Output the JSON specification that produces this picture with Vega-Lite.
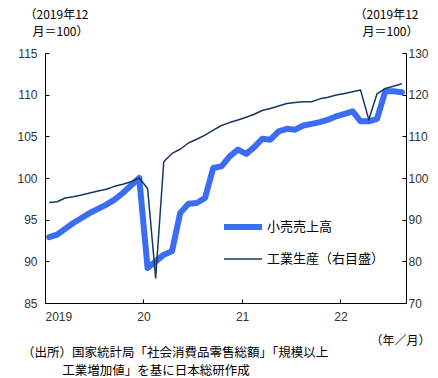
{
  "$schema": "https://vega.github.io/schema/vega-lite/v6.json",
  "width": 361,
  "height": 250,
  "autosize": "none",
  "padding": {"left": 45, "top": 53, "right": 32, "bottom": 75},
  "config": {
    "view": {"stroke": null},
    "font": "Noto Sans CJK JP",
    "axis": {
      "grid": false,
      "domainColor": "#000",
      "domainWidth": 1,
      "tickColor": "#000",
      "tickWidth": 1,
      "tickSize": -4,
      "labelFont": "Liberation Sans",
      "labelFontSize": 12,
      "labelColor": "#333",
      "titleFont": "Noto Sans CJK JP",
      "titleFontWeight": "normal",
      "titleFontSize": 12,
      "titleColor": "#000"
    },
    "legend": {
      "orient": "none",
      "legendX": 176,
      "legendY": 152,
      "padding": 0,
      "symbolType": "stroke",
      "symbolSize": 1444,
      "rowPadding": -7,
      "labelFont": "Noto Sans CJK JP",
      "labelFontSize": 13,
      "labelColor": "#000",
      "labelOffset": 2
    }
  },
  "title": {
    "text": ["（出所）国家統計局「社会消費品零售総額」「規模以上", "\u200b\u3000\u3000\u3000 工業増加値」を基に日本総研作成"],
    "orient": "bottom",
    "anchor": "start",
    "frame": "group",
    "dx": -23,
    "offset": 1,
    "font": "Noto Sans CJK JP",
    "fontSize": 12.5,
    "fontWeight": "normal",
    "lineHeight": 18,
    "color": "#000"
  },
  "data": {
    "values": [
      {"month": "2019-01", "series": "小売売上高", "value": 92.9},
      {"month": "2019-02", "series": "小売売上高", "value": 93.2},
      {"month": "2019-03", "series": "小売売上高", "value": 93.9},
      {"month": "2019-04", "series": "小売売上高", "value": 94.6},
      {"month": "2019-05", "series": "小売売上高", "value": 95.2},
      {"month": "2019-06", "series": "小売売上高", "value": 95.8},
      {"month": "2019-07", "series": "小売売上高", "value": 96.3},
      {"month": "2019-08", "series": "小売売上高", "value": 96.8},
      {"month": "2019-09", "series": "小売売上高", "value": 97.4},
      {"month": "2019-10", "series": "小売売上高", "value": 98.2},
      {"month": "2019-11", "series": "小売売上高", "value": 99.1},
      {"month": "2019-12", "series": "小売売上高", "value": 100.0},
      {"month": "2020-01", "series": "小売売上高", "value": 89.2},
      {"month": "2020-02", "series": "小売売上高", "value": 90.0},
      {"month": "2020-03", "series": "小売売上高", "value": 90.8},
      {"month": "2020-04", "series": "小売売上高", "value": 91.2},
      {"month": "2020-05", "series": "小売売上高", "value": 95.8},
      {"month": "2020-06", "series": "小売売上高", "value": 96.9},
      {"month": "2020-07", "series": "小売売上高", "value": 97.0},
      {"month": "2020-08", "series": "小売売上高", "value": 97.6},
      {"month": "2020-09", "series": "小売売上高", "value": 101.2},
      {"month": "2020-10", "series": "小売売上高", "value": 101.4},
      {"month": "2020-11", "series": "小売売上高", "value": 102.6},
      {"month": "2020-12", "series": "小売売上高", "value": 103.4},
      {"month": "2021-01", "series": "小売売上高", "value": 102.9},
      {"month": "2021-02", "series": "小売売上高", "value": 103.7},
      {"month": "2021-03", "series": "小売売上高", "value": 104.7},
      {"month": "2021-04", "series": "小売売上高", "value": 104.6},
      {"month": "2021-05", "series": "小売売上高", "value": 105.6},
      {"month": "2021-06", "series": "小売売上高", "value": 105.9},
      {"month": "2021-07", "series": "小売売上高", "value": 105.8},
      {"month": "2021-08", "series": "小売売上高", "value": 106.3},
      {"month": "2021-09", "series": "小売売上高", "value": 106.5},
      {"month": "2021-10", "series": "小売売上高", "value": 106.7},
      {"month": "2021-11", "series": "小売売上高", "value": 107.0},
      {"month": "2021-12", "series": "小売売上高", "value": 107.4},
      {"month": "2022-01", "series": "小売売上高", "value": 107.7},
      {"month": "2022-02", "series": "小売売上高", "value": 108.0},
      {"month": "2022-03", "series": "小売売上高", "value": 106.8},
      {"month": "2022-04", "series": "小売売上高", "value": 106.8},
      {"month": "2022-05", "series": "小売売上高", "value": 107.1},
      {"month": "2022-06", "series": "小売売上高", "value": 110.4},
      {"month": "2022-07", "series": "小売売上高", "value": 110.4},
      {"month": "2022-08", "series": "小売売上高", "value": 110.3},
      {"month": "2019-01", "series": "工業生産（右目盛）", "value": 94.1},
      {"month": "2019-02", "series": "工業生産（右目盛）", "value": 94.3},
      {"month": "2019-03", "series": "工業生産（右目盛）", "value": 95.2},
      {"month": "2019-04", "series": "工業生産（右目盛）", "value": 95.5},
      {"month": "2019-05", "series": "工業生産（右目盛）", "value": 95.9},
      {"month": "2019-06", "series": "工業生産（右目盛）", "value": 96.4},
      {"month": "2019-07", "series": "工業生産（右目盛）", "value": 96.9},
      {"month": "2019-08", "series": "工業生産（右目盛）", "value": 97.3},
      {"month": "2019-09", "series": "工業生産（右目盛）", "value": 98.0},
      {"month": "2019-10", "series": "工業生産（右目盛）", "value": 98.5},
      {"month": "2019-11", "series": "工業生産（右目盛）", "value": 99.1},
      {"month": "2019-12", "series": "工業生産（右目盛）", "value": 100.0},
      {"month": "2020-01", "series": "工業生産（右目盛）", "value": 97.5},
      {"month": "2020-02", "series": "工業生産（右目盛）", "value": 76.0},
      {"month": "2020-03", "series": "工業生産（右目盛）", "value": 103.9},
      {"month": "2020-04", "series": "工業生産（右目盛）", "value": 105.9},
      {"month": "2020-05", "series": "工業生産（右目盛）", "value": 106.9},
      {"month": "2020-06", "series": "工業生産（右目盛）", "value": 108.4},
      {"month": "2020-07", "series": "工業生産（右目盛）", "value": 109.3},
      {"month": "2020-08", "series": "工業生産（右目盛）", "value": 110.3},
      {"month": "2020-09", "series": "工業生産（右目盛）", "value": 111.5},
      {"month": "2020-10", "series": "工業生産（右目盛）", "value": 112.6},
      {"month": "2020-11", "series": "工業生産（右目盛）", "value": 113.3},
      {"month": "2020-12", "series": "工業生産（右目盛）", "value": 113.9},
      {"month": "2021-01", "series": "工業生産（右目盛）", "value": 114.6},
      {"month": "2021-02", "series": "工業生産（右目盛）", "value": 115.3},
      {"month": "2021-03", "series": "工業生産（右目盛）", "value": 116.2},
      {"month": "2021-04", "series": "工業生産（右目盛）", "value": 116.7},
      {"month": "2021-05", "series": "工業生産（右目盛）", "value": 117.3},
      {"month": "2021-06", "series": "工業生産（右目盛）", "value": 117.9},
      {"month": "2021-07", "series": "工業生産（右目盛）", "value": 118.1},
      {"month": "2021-08", "series": "工業生産（右目盛）", "value": 118.3},
      {"month": "2021-09", "series": "工業生産（右目盛）", "value": 118.3},
      {"month": "2021-10", "series": "工業生産（右目盛）", "value": 119.0},
      {"month": "2021-11", "series": "工業生産（右目盛）", "value": 119.4},
      {"month": "2021-12", "series": "工業生産（右目盛）", "value": 119.9},
      {"month": "2022-01", "series": "工業生産（右目盛）", "value": 120.3},
      {"month": "2022-02", "series": "工業生産（右目盛）", "value": 120.7},
      {"month": "2022-03", "series": "工業生産（右目盛）", "value": 121.1},
      {"month": "2022-04", "series": "工業生産（右目盛）", "value": 114.0},
      {"month": "2022-05", "series": "工業生産（右目盛）", "value": 120.2},
      {"month": "2022-06", "series": "工業生産（右目盛）", "value": 121.5},
      {"month": "2022-07", "series": "工業生産（右目盛）", "value": 122.0},
      {"month": "2022-08", "series": "工業生産（右目盛）", "value": 122.6}
    ]
  },
  "encoding": {
    "x": {
      "field": "month",
      "type": "temporal",
      "timeUnit": "utcyearmonth",
      "bandPosition": 0.5,
      "scale": {
        "domain": [
          {"year": 2019, "month": 1, "date": 1, "utc": true},
          {"year": 2022, "month": 9, "date": 1, "utc": true}
        ]
      },
      "axis": {
        "values": [
          {"year": 2019, "month": 1, "date": 1, "utc": true},
          {"year": 2020, "month": 1, "date": 1, "utc": true},
          {"year": 2021, "month": 1, "date": 1, "utc": true},
          {"year": 2022, "month": 1, "date": 1, "utc": true}
        ],
        "labelExpr": "utcFormat(datum.value, '%Y') == '2019' ? '2019' : utcFormat(datum.value, '%y')",
        "labelPadding": 12,
        "labelAngle": 0,
        "title": "（年／月）",
        "titleAlign": "right",
        "titleBaseline": "alphabetic",
        "titleX": 385,
        "titleY": 41
      }
    },
    "color": {
      "field": "series",
      "type": "nominal",
      "scale": {"domain": ["小売売上高", "工業生産（右目盛）"], "range": ["#3a6cf4", "#17375e"]},
      "legend": {"title": null}
    },
    "strokeWidth": {
      "field": "series",
      "type": "nominal",
      "scale": {"domain": ["小売売上高", "工業生産（右目盛）"], "range": [6, 1.5]},
      "legend": {"title": null}
    }
  },
  "layer": [
    {
      "transform": [{"filter": "datum.series == '小売売上高'"}],
      "mark": {"type": "line", "strokeCap": "round", "strokeJoin": "round"},
      "encoding": {
        "y": {
          "field": "value",
          "type": "quantitative",
          "scale": {"domain": [85, 115]},
          "axis": {
            "orient": "left",
            "values": [85, 90, 95, 100, 105, 110, 115],
            "labelPadding": 12,
            "title": ["（2019年12", "月＝100）"],
            "titleAngle": 0,
            "titleAlign": "right",
            "titleBaseline": "alphabetic",
            "titleLineHeight": 17,
            "titleX": 43,
            "titleY": -35
          }
        }
      }
    },
    {
      "transform": [{"filter": "datum.series == '工業生産（右目盛）'"}],
      "mark": {"type": "line", "strokeJoin": "round"},
      "encoding": {
        "y": {
          "field": "value",
          "type": "quantitative",
          "scale": {"domain": [70, 130]},
          "axis": {
            "orient": "right",
            "values": [70, 80, 90, 100, 110, 120, 130],
            "labelPadding": 6,
            "title": ["（2019年12", "月＝100）"],
            "titleAngle": 0,
            "titleAlign": "right",
            "titleBaseline": "alphabetic",
            "titleLineHeight": 17,
            "titleX": 12,
            "titleY": -35
          }
        }
      }
    }
  ],
  "resolve": {"scale": {"y": "independent"}}
}
